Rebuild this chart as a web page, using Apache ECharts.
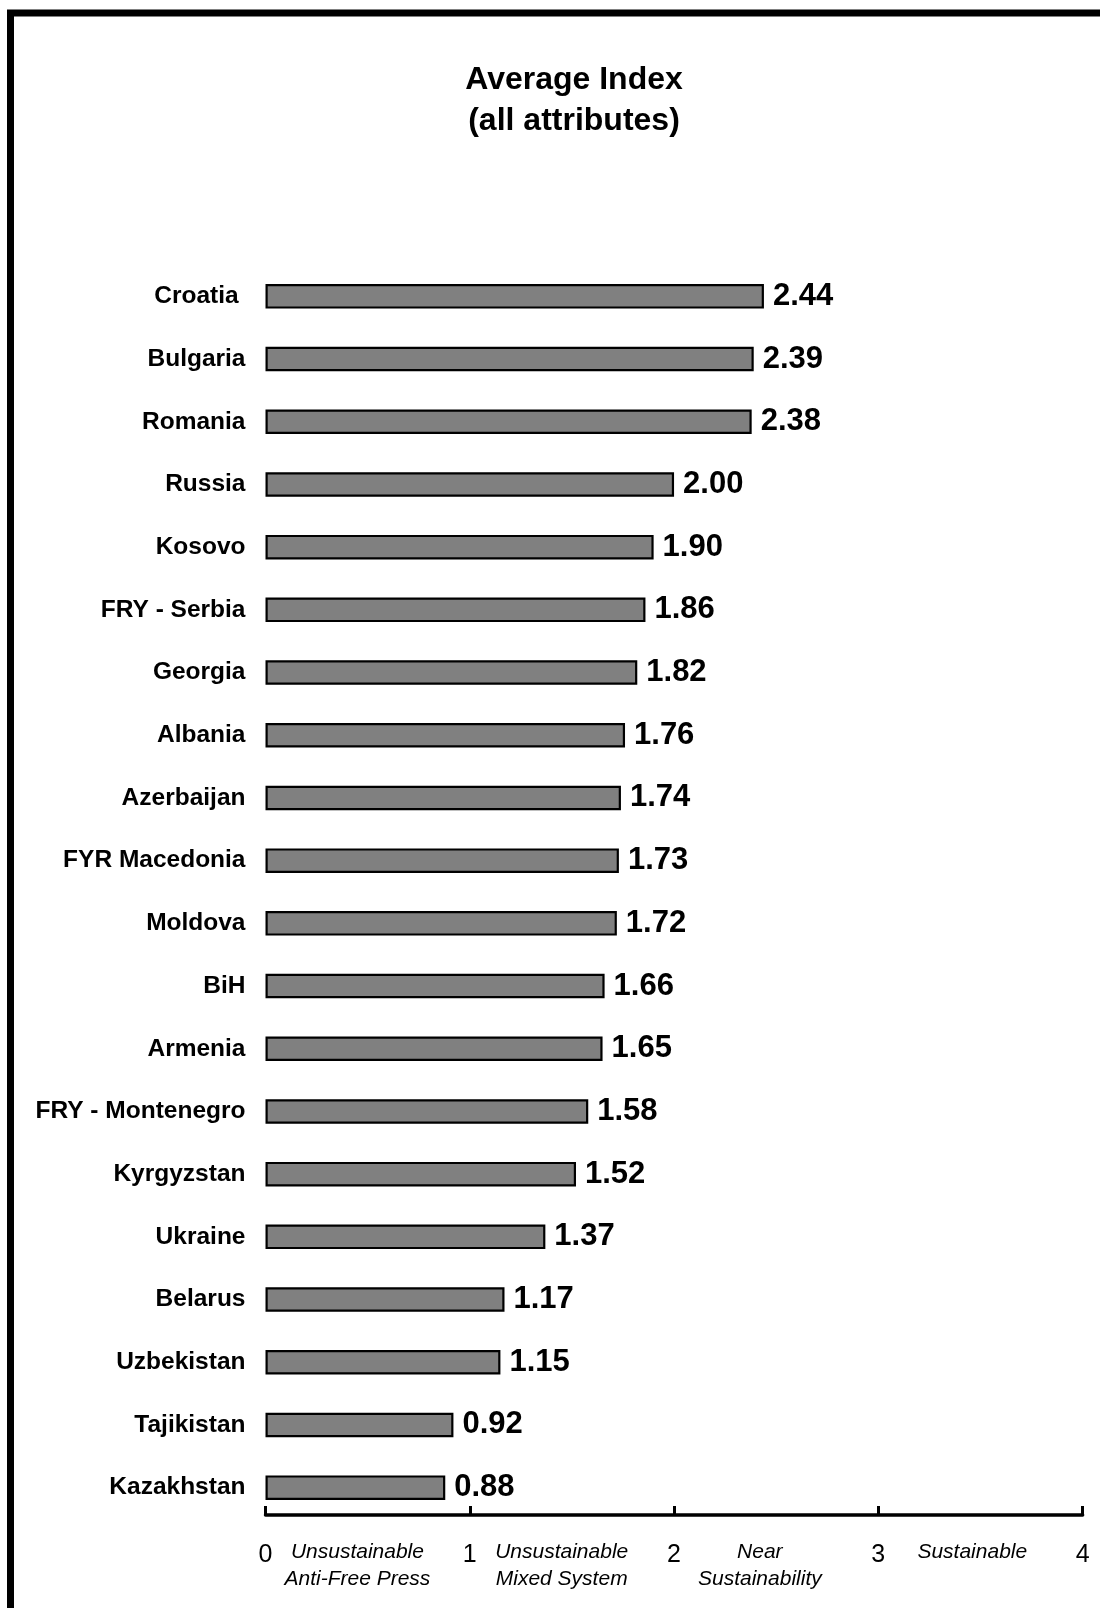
<!DOCTYPE html>
<html>
<head>
<meta charset="utf-8">
<script src="https://cdn.jsdelivr.net/npm/echarts@6/dist/echarts.min.js"></script>
<style>
html,body{margin:0;padding:0;background:#fff;}
#chart{width:1100px;height:1608px;}
</style>
</head>
<body>
<div id="chart"></div>
<script>
const countries = ["Croatia ","Bulgaria","Romania","Russia","Kosovo","FRY - Serbia","Georgia","Albania","Azerbaijan","FYR Macedonia","Moldova","BiH","Armenia","FRY - Montenegro","Kyrgyzstan","Ukraine","Belarus","Uzbekistan","Tajikistan","Kazakhstan"];
const values = [2.44,2.39,2.38,2.00,1.90,1.86,1.82,1.76,1.74,1.73,1.72,1.66,1.65,1.58,1.52,1.37,1.17,1.15,0.92,0.88];
const tickLabels = ["0","1","2","3","4"];
const bandLabels = ["Unsustainable\nAnti-Free Press","Unsustainable\nMixed System","Near\nSustainability","Sustainable"];
const titleText = "Average Index\n(all attributes)";

const FONT = "Liberation Sans";
const chart = echarts.init(document.getElementById('chart'));
const option = {
  animation: false,
  backgroundColor: '#fff',
  title: {
    text: titleText,
    left: 569, top: 55, textAlign: 'center',
    textStyle: {fontFamily: FONT, fontWeight: 'bold', fontSize: 32, lineHeight: 41, color: '#000'}
  },
  grid: {left: 265.5, right: 17.4, top: 265, height: 1254},
  xAxis: {
    type: 'value', min: 0, max: 4, interval: 1,
    offset: -4,
    axisLine: {show: true, lineStyle: {color: '#000', width: 3.5}},
    axisTick: {show: true, inside: true, length: 9, lineStyle: {color: '#000', width: 3}},
    splitLine: {show: false},
    axisLabel: {
      margin: 28, fontFamily: FONT, fontSize: 25, color: '#000',
      formatter: v => tickLabels[Math.round(v)]
    }
  },
  yAxis: {
    type: 'category', data: countries, inverse: true,
    axisLine: {show: false}, axisTick: {show: false},
    axisLabel: {margin: 20, fontFamily: FONT, fontWeight: 'bold', fontSize: 24.5, color: '#000'}
  },
  series: [{
    type: 'bar', data: values, barWidth: 24.5,
    itemStyle: {color: '#808080', borderColor: '#000', borderWidth: 2.2},
    label: {
      show: true, position: 'right', distance: 9,
      fontFamily: FONT, fontWeight: 'bold', fontSize: 31, color: '#000',
      formatter: p => p.value.toFixed(2)
    }
  }]
};
chart.setOption(option);

const rect = chart.getModel().getComponent('grid').coordinateSystem.getRect();
const lineY = rect.y + rect.height - 4;
const bandCenters = [0.45, 1.45, 2.42, 3.46];
const graphics = [{
  type: 'rect', silent: true,
  shape: {x: 10.5, y: 13, width: 1120, height: 1640},
  style: {fill: 'none', stroke: '#000', lineWidth: 7}
}];
bandLabels.forEach((t, i) => {
  const x = chart.convertToPixel({gridIndex: 0}, [bandCenters[i], countries[0]])[0];
  graphics.push({
    type: 'text', silent: true,
    x: x, y: lineY + 24,
    style: {text: t, fontFamily: FONT, fontStyle: 'italic', fontSize: 21, lineHeight: 27,
      fill: '#000', align: 'center', verticalAlign: 'top'}
  });
});
chart.setOption({graphic: graphics});
</script>
</body>
</html>
